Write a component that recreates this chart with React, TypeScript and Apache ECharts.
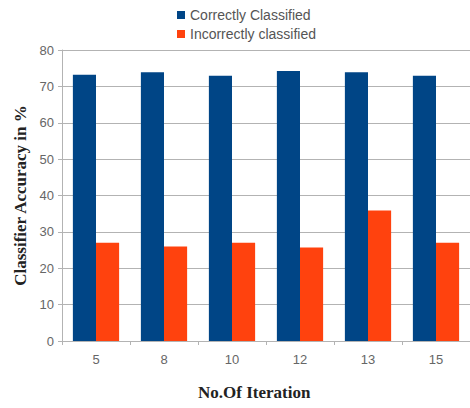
import React, { useEffect, useRef } from "react";
import * as echarts from "echarts";

const iterations = ["5", "8", "10", "12", "13", "15"];
const correctlyClassified = [73.2, 73.9, 72.9, 74.2, 73.9, 72.9];
const incorrectlyClassified = [27.0, 26.0, 27.0, 25.7, 35.9, 27.0];
const seriesNames = ["Correctly Classified", "Incorrectly classified"];
const yTicks = { min: 0, max: 80, interval: 10 };

export default function App() {
  const ref = useRef<HTMLDivElement>(null);

  useEffect(() => {
    document.body.style.margin = "0";
    if (!ref.current) return;
    const chart = echarts.init(ref.current, undefined, { renderer: "svg" });
    const gray = "#666";
    const serif = "'Liberation Serif', 'DejaVu Serif', serif";
    const sans = "'Liberation Sans', Arial, sans-serif";
    chart.setOption({
      animation: false,
      backgroundColor: "#ffffff",
      legend: {
        orient: "vertical",
        left: 177,
        top: 8,
        padding: 0,
        itemWidth: 8,
        itemHeight: 8,
        itemGap: 5,
        icon: "rect",
        textStyle: { color: "#555", fontSize: 14, fontFamily: sans },
        data: seriesNames,
      },
      grid: { left: 62, top: 50, height: 291, width: 412, containLabel: false },
      xAxis: {
        type: "category",
        data: iterations,
        axisLine: { lineStyle: { color: "#b3b3b3" } },
        axisTick: { show: true, length: 4, lineStyle: { color: "#b3b3b3" } },
        axisLabel: { color: gray, fontSize: 13, fontFamily: sans, margin: 12 },
      },
      yAxis: {
        type: "value",
        min: yTicks.min,
        max: yTicks.max,
        interval: yTicks.interval,
        name: "Classifier Accuracy in %",
        nameLocation: "middle",
        nameGap: 31,
        nameTextStyle: { fontFamily: serif, fontWeight: "bold", fontSize: 17, color: "#222" },
        axisLine: { show: true, lineStyle: { color: "#b3b3b3" } },
        axisTick: { show: true, length: 4, lineStyle: { color: "#b3b3b3" } },
        axisLabel: { color: gray, fontSize: 13, fontFamily: sans, margin: 8 },
        splitLine: { lineStyle: { color: "#b3b3b3" } },
      },
      graphic: [
        {
          type: "text",
          left: 198,
          top: 384,
          style: {
            text: "No.Of Iteration",
            font: "bold 17px " + serif,
            fill: "#222",
          },
        },
      ],
      series: [
        {
          name: seriesNames[0],
          type: "bar",
          data: correctlyClassified,
          itemStyle: { color: "#004586" },
          barGap: "0%",
          barCategoryGap: "32%",
        },
        {
          name: seriesNames[1],
          type: "bar",
          data: incorrectlyClassified,
          itemStyle: { color: "#ff420e" },
          barGap: "0%",
          barCategoryGap: "32%",
        },
      ],
    });
    return () => chart.dispose();
  }, []);

  return <div ref={ref} style={{ width: 470, height: 408 }} />;
}
